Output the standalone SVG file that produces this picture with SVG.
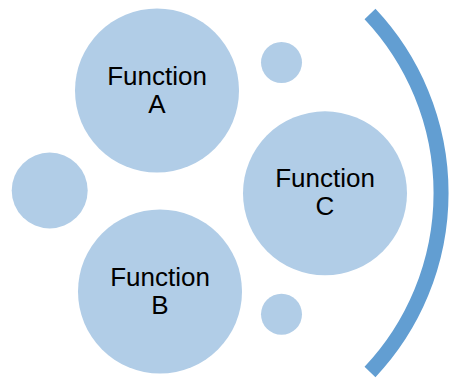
<svg xmlns="http://www.w3.org/2000/svg" width="449" height="378" viewBox="0 0 449 378">
<style>
.n{fill:#B1CDE7}
.t{font-family:"Liberation Sans",Arial,sans-serif;font-size:26px;fill:#000;text-anchor:middle}
.arc{fill:none;stroke:#629ED2;stroke-width:15}
</style>
<rect width="449" height="378" fill="#fff"/>
<g id="connectors">
<path class="arc" d="M 370 14 A 261 261 0 0 1 370 372"/>
</g>
<g id="funcA"><circle class="n" cx="157" cy="90.5" r="82"/><text class="t" x="157" y="84.5">Function</text><text class="t" x="157" y="113">A</text></g>
<g id="dotTop"><circle class="n" cx="281.5" cy="62.5" r="20.5"/></g>
<g id="funcC"><circle class="n" cx="325" cy="193.3" r="82"/><text class="t" x="325" y="187">Function</text><text class="t" x="325" y="215">C</text></g>
<g id="dotLeft"><circle class="n" cx="49.7" cy="190.5" r="38"/></g>
<g id="funcB"><circle class="n" cx="160" cy="291.5" r="82"/><text class="t" x="160" y="286">Function</text><text class="t" x="160" y="314">B</text></g>
<g id="dotBottom"><circle class="n" cx="281.5" cy="314.3" r="20.5"/></g>
</svg>
